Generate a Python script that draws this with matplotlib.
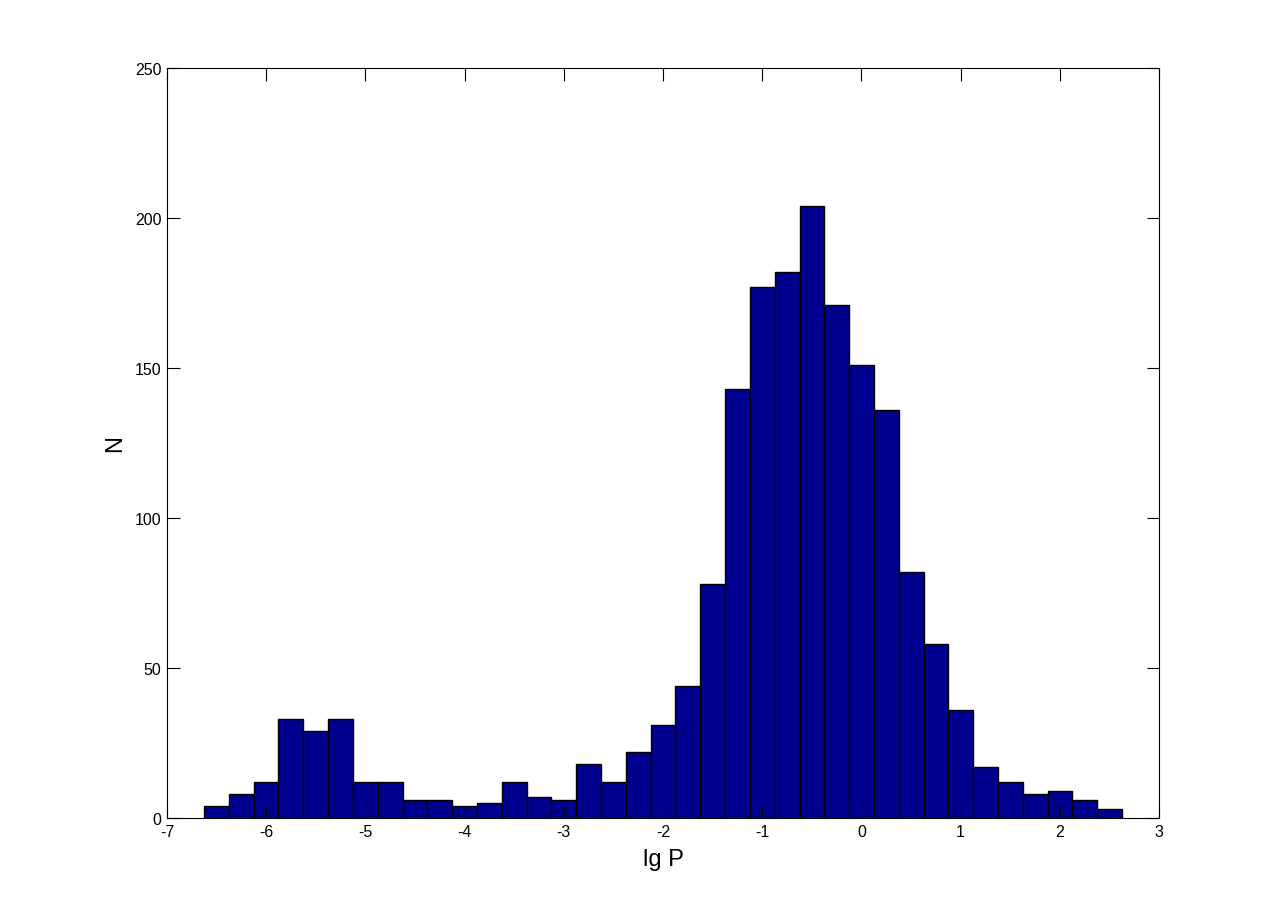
import numpy as np
import matplotlib
matplotlib.use('Agg')
import matplotlib.pyplot as plt

# Histogram counts per bin (lg P)
counts = [4, 8, 12, 33, 29, 33, 12, 12, 6, 6, 4, 5, 12, 7, 6, 18, 12, 22, 31, 44,
          78, 143, 177, 182, 204, 171, 151, 136, 82, 58, 36, 17, 12, 8, 9, 6, 3]
x_min_bin = -6.627
x_max_bin = 2.627
xticks = [-7, -6, -5, -4, -3, -2, -1, 0, 1, 2, 3]
yticks = [0, 50, 100, 150, 200, 250]

plt.rcParams['font.family'] = ['Liberation Sans', 'DejaVu Sans']
plt.rcParams['axes.unicode_minus'] = False

fig = plt.figure(figsize=(12.81, 9.2), dpi=100)
ax = fig.add_axes([0.1304, 0.1098, 0.7744, 0.8152])

edges = np.linspace(x_min_bin, x_max_bin, len(counts) + 1)
ax.bar(edges[:-1], counts, width=np.diff(edges), align='edge',
       color='#00008F', edgecolor='black', linewidth=1.0)

ax.set_xlim(-7, 3)
ax.set_ylim(0, 250)
ax.set_xticks(xticks)
ax.set_yticks(yticks)
ax.tick_params(direction='in', length=9, width=0.8, top=True, right=True,
               labelsize=11.5, pad=4)
for s in ax.spines.values():
    s.set_linewidth(0.8)
ax.set_xlabel('lg P', fontsize=17, labelpad=7)
ax.set_ylabel('N', fontsize=17, labelpad=6)

fig.savefig('out.png', dpi=100)
